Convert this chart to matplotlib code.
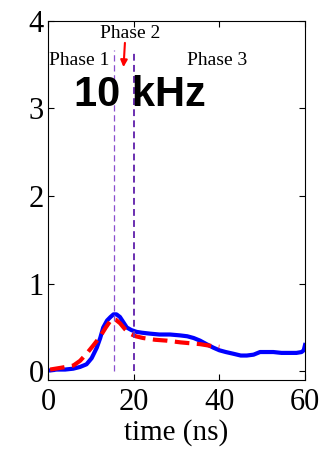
import matplotlib.pyplot as plt

# measured signal (blue) and model (red dashed)
t_meas = [0, 0.5, 2, 4, 5.9, 7.5, 9.0, 10.2, 11.4, 12.2, 12.9, 13.8, 14.6, 15.3,
          16.0, 16.8, 17.6, 18.4, 19.5, 20.7, 22.0, 23.8, 26.0, 28.5, 30.8, 32.5,
          34.0, 35.5, 37.0, 38.6, 40.0, 41.5, 43.3, 45.0, 46.4, 48.0, 49.5, 51.0,
          52.6, 54.5, 56.5, 58.0, 59.2, 59.7, 60.0]
v_meas = [0.01, 0.01, 0.02, 0.02, 0.03, 0.05, 0.08, 0.15, 0.27, 0.38, 0.50, 0.58, 0.62, 0.65,
          0.65, 0.62, 0.56, 0.50, 0.47, 0.45, 0.44, 0.43, 0.42, 0.42, 0.41, 0.40,
          0.38, 0.35, 0.31, 0.27, 0.24, 0.22, 0.20, 0.18, 0.18, 0.19, 0.22, 0.22,
          0.22, 0.21, 0.21, 0.21, 0.22, 0.24, 0.30]

t_model = [0.5, 3, 5.9, 7.5, 9.0, 10.5, 12.1, 13.5, 14.9, 15.8, 16.8, 18.0, 19.1,
           20.5, 22.2, 25.0, 27.7, 31.0, 35.5, 38.0, 40.0]
v_model = [0.02, 0.04, 0.065, 0.12, 0.20, 0.29, 0.39, 0.50, 0.60, 0.59, 0.55, 0.48, 0.43,
           0.40, 0.38, 0.36, 0.35, 0.33, 0.31, 0.29, 0.28]

phase_lines = [15.4, 20.1]

fig = plt.figure(figsize=(3.33, 4.53), dpi=100)
ax = fig.add_axes([0.144, 0.161, 0.772, 0.793])

ax.plot(t_meas, v_meas, color="blue", lw=3)
ax.plot(t_model, v_model, color="red", lw=3, ls=(0, (3.5, 1.8)))

ax.vlines(phase_lines[0], 0.0, 3.67, colors="#8a4fcf", linestyles=(0, (5, 3)), lw=0.9)
ax.vlines(phase_lines[1], 0.0, 3.67, colors="#6a2fb0", linestyles=(0, (3.5, 2.2)), lw=1.4)

serif = ["Liberation Serif", "DejaVu Serif"]
ax.text(7.2, 3.55, "Phase 1", family=serif, fontsize=14, ha="center", va="center")
ax.text(19.1, 3.86, "Phase 2", family=serif, fontsize=14, ha="center", va="center")
ax.text(39.5, 3.55, "Phase 3", family=serif, fontsize=14, ha="center", va="center")
ax.annotate("", xy=(17.6, 3.44), xytext=(18.0, 3.78),
            arrowprops=dict(arrowstyle="-|>", color="red", lw=1.5, mutation_scale=10))
ax.text(21.5, 3.15, "10 kHz", family=["Liberation Sans"], fontweight="bold",
        fontsize=30, ha="center", va="center")

ax.set_xlim(0, 60)
ax.set_ylim(-0.1, 4)
ax.set_xticks([0, 20, 40, 60])
ax.set_yticks([0, 1, 2, 3, 4])
ax.tick_params(direction="in", top=True, right=True, length=4, labelsize=22)
ax.tick_params(axis="x", pad=6)
ax.tick_params(axis="y", pad=3)
for lab in ax.get_xticklabels() + ax.get_yticklabels():
    lab.set_family(serif)
ax.set_xlabel("time (ns)", family=serif, fontsize=21, labelpad=1)

plt.savefig("out.png", dpi=100)
plt.close()
